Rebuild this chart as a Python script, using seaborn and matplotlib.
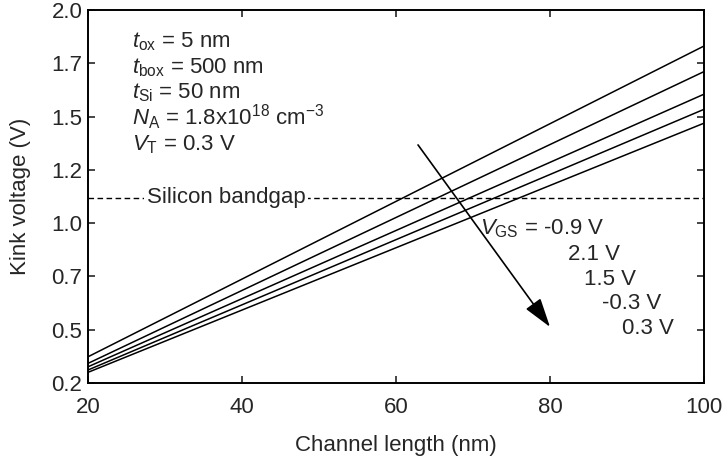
import matplotlib
matplotlib.use("Agg")
import matplotlib.pyplot as plt
import seaborn as sns
import pandas as pd

# ── Data ──────────────────────────────────────────────────────────────────────
channel_length = [20, 100]                      # nm
vgs_labels = ["-0.9", "2.1", "1.5", "-0.3", "0.3"]   # top line to bottom line
kink_m09 = [0.373, 1.831]
kink_21 = [0.342, 1.711]
kink_15 = [0.326, 1.605]
kink_m03 = [0.311, 1.534]
kink_03 = [0.300, 1.469]
bandgap = 1.12

y_ticks = [0.25, 0.5, 0.75, 1.0, 1.25, 1.5, 1.75, 2.0]
y_tick_labels = ["0.2", "0.5", "0.7", "1.0", "1.2", "1.5", "1.7", "2.0"]
x_ticks = [20, 40, 60, 80, 100]

params = [
    r"$t_{\mathrm{ox}}$ = 5 nm",
    r"$t_{\mathrm{box}}$ = 500 nm",
    r"$t_{\mathrm{Si}}$ = 50 nm",
    r"$N_{\mathrm{A}}$ = 1.8x10$^{18}$ cm$^{-3}$",
    r"$V_{\mathrm{T}}$ = 0.3 V",
]

# ── Style ─────────────────────────────────────────────────────────────────────
sns.set_style("ticks")
plt.rcParams["font.family"] = ["Liberation Sans", "DejaVu Sans"]
plt.rcParams["mathtext.fontset"] = "custom"
plt.rcParams["mathtext.rm"] = "Liberation Sans"
plt.rcParams["mathtext.it"] = "Liberation Sans:italic"
FS = 16

rows = []
for lab, vals in zip(vgs_labels, [kink_m09, kink_21, kink_15, kink_m03, kink_03]):
    for L, v in zip(channel_length, vals):
        rows.append({"L": L, "kink": v, "vgs": lab})
df = pd.DataFrame(rows)

fig = plt.figure(figsize=(7.22, 4.59), dpi=100)
ax = fig.add_axes([88 / 722, 1 - 383 / 459, 616 / 722, 373 / 459])

sns.lineplot(data=df, x="L", y="kink", hue="vgs", palette=["black"] * 5,
             legend=False, linewidth=1.1, ax=ax)

ax.axhline(bandgap, color="black", lw=1.0, dashes=(4, 2.5), zorder=1)
ax.text(27.66, bandgap, "Silicon bandgap", fontsize=FS, va="center", ha="left",
        bbox=dict(facecolor="white", edgecolor="none", pad=2), zorder=2)

# parameter block
for i, s in enumerate(params):
    ax.text(25.68, 1.826 - i * 0.1215, s, fontsize=FS, va="baseline", ha="left")

# V_GS labels
ax.text(70.9, 0.947, r"$V_{\mathrm{GS}}$ = -0.9 V", fontsize=FS, va="baseline")
ax.text(82.34, 0.825, "2.1 V", fontsize=FS, va="baseline")
ax.text(84.42, 0.7075, "1.5 V", fontsize=FS, va="baseline")
ax.text(86.75, 0.595, "-0.3 V", fontsize=FS, va="baseline")
ax.text(89.35, 0.478, "0.3 V", fontsize=FS, va="baseline")

ax.annotate("", xy=(80.0, 0.513), xytext=(62.86, 1.367),
            arrowprops=dict(arrowstyle="-|>,head_length=0.9,head_width=0.28",
                            mutation_scale=20, color="black", lw=1.2,
                            shrinkA=0, shrinkB=0))

ax.set_xlim(20, 100)
ax.set_ylim(0.25, 2.0)
ax.set_xticks(x_ticks)
ax.set_yticks(y_ticks)
ax.set_yticklabels(y_tick_labels)
ax.tick_params(direction="in", length=5, width=1.2, labelsize=FS,
               top=True, right=True)
ax.tick_params(axis="x", pad=10)
ax.tick_params(axis="y", pad=4)
for sp in ax.spines.values():
    sp.set_linewidth(1.4)
    sp.set_color("black")
ax.set_xlabel("Channel length (nm)", fontsize=FS, labelpad=12)
ax.set_ylabel("Kink voltage (V)", fontsize=FS, labelpad=15)

fig.savefig("out.png", dpi=100)
